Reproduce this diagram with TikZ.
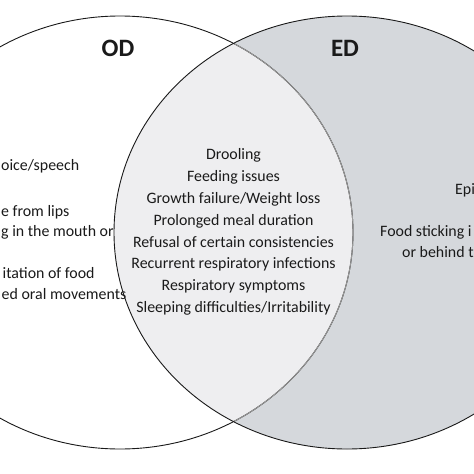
\documentclass[tikz,border=0pt]{standalone}
\usepackage{fontspec}
\setmainfont{Carlito}
\definecolor{edgray}{HTML}{D5D8DC}
\definecolor{bothgray}{HTML}{EEEEF0}
\definecolor{rimgray}{HTML}{9A9A9A}
\definecolor{inkdark}{HTML}{1A1A1A}

\tikzset{
  item/.style={text=inkdark, font=\fontsize{15.9}{21.8}\selectfont, inner sep=0pt},
  title/.style={text=inkdark, font=\fontsize{25}{27}\selectfont\bfseries, inner sep=0pt},
  rim/.style={line width=0.9pt},
}

\begin{document}
\begin{tikzpicture}[x=1pt,y=-1pt]
  \useasboundingbox (0,0) rectangle (474,474);
  \clip (0,0) rectangle (474,474);
  \fill[white] (0,0) rectangle (474,474);

  % the two sets
  \coordinate (odc) at (120,232.5);
  \coordinate (edc) at (347,232.5);
  \fill[edgray] (edc) ellipse [x radius=233pt, y radius=216.5pt];
  \begin{scope}
    \clip (odc) ellipse [x radius=233pt, y radius=216.5pt];
    \fill[bothgray] (edc) ellipse [x radius=233pt, y radius=216.5pt];
  \end{scope}
  \draw[rim, inkdark] (odc) ellipse [x radius=233pt, y radius=216.5pt];
  \begin{scope}
    \clip (edc) ellipse [x radius=233pt, y radius=216.5pt];
    \draw[rim, rimgray] (odc) ellipse [x radius=233pt, y radius=216.5pt];
  \end{scope}
  \draw[rim, inkdark] (edc) ellipse [x radius=233pt, y radius=216.5pt];

  % titles
  \node[title] (od) at (118,48) {OD};
  \node[title] (ed) at (345,48) {ED};

  % OD only
  \node[item, anchor=west] (od1) at (1,166)   {oice/speech};
  \node[item, anchor=west] (od2) at (1,212)   {e from lips};
  \node[item, anchor=west] (od3) at (1,232)   {g in the mouth or};
  \node[item, anchor=west] (od4) at (2.5,273) {itation of food};
  \node[item, anchor=west] (od5) at (1.5,294) {ed oral movements};

  % both
  \node[item, align=center] (both) at (233.5,232) {%
    Drooling\\
    Feeding issues\\
    Growth failure/Weight loss\\
    Prolonged meal duration\\
    Refusal of certain consistencies\\
    Recurrent respiratory infections\\
    Respiratory symptoms\\
    Sleeping difficulties/Irritability};

  % ED only
  \node[item, anchor=west] (ed1) at (455,190) {Epi};
  \node[item, anchor=west] (ed2) at (380,232) {Food sticking i};
  \node[item, anchor=west] (ed3) at (402,252) {or behind t};
\end{tikzpicture}
\end{document}
